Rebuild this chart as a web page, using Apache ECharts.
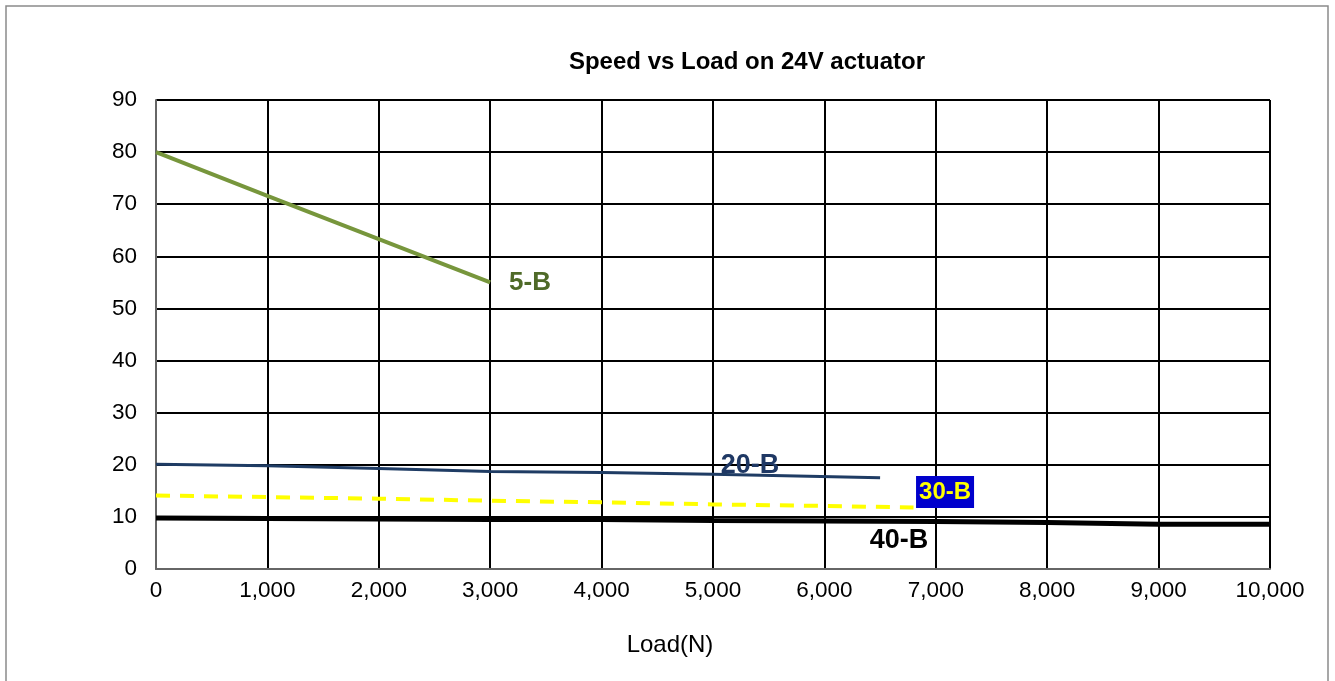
<!DOCTYPE html>
<html><head><meta charset="utf-8">
<script src="https://cdn.jsdelivr.net/npm/echarts@6/dist/echarts.min.js"></script>
<style>html,body{margin:0;padding:0;background:#fff}#c{width:1335px;height:681px}</style>
</head><body><div id="c"></div>
<script>
var titleText = 'Speed vs Load on 24V actuator';
var xName = 'Load(N)';
var s5B = [[0,80],[1000,71.6],[2000,63.3],[3000,55]];
var s20B = [[0,20.1],[1000,19.8],[2000,19.3],[3000,18.7],[4000,18.5],[5000,18.2],[6500,17.5]];
var s30B = [[0,14.1],[1000,13.8],[2000,13.5],[3000,13.1],[4000,12.8],[5000,12.4],[6000,12.1],[6800,11.8]];
var s40B = [[0,9.8],[1000,9.7],[2000,9.6],[3000,9.5],[4000,9.5],[5000,9.3],[6000,9.2],[7000,9.1],[8000,8.9],[9000,8.6],[10000,8.6]];
var labelNames = ['5-B','20-B','30-B','40-B'];
var labelAt = [[3357,54.9],[5332,19.8],[7083,14.8],[6670,5.4]];

var font = 'Liberation Sans, Arial, sans-serif';
var chart = echarts.init(document.getElementById('c'));
function lbl(i, color, size, bg){
  return {
    symbol: 'circle', symbolSize: 0,
    data: [{coord: labelAt[i]}],
    label: {show: true, position: 'inside', formatter: labelNames[i], color: color,
      fontSize: size, fontWeight: 'bold', fontFamily: font,
      backgroundColor: bg || 'transparent', padding: bg ? [4,3,4,3] : 0},
    itemStyle: {color: 'transparent'}
  };
}
chart.setOption({
  animation: false,
  backgroundColor: '#fff',
  title: [
    {text: titleText, left: 742, top: 45, textAlign: 'center',
     textStyle: {fontFamily: font, fontSize: 24, fontWeight: 'bold', color: '#000'}},
    {text: xName, left: 665, top: 628, textAlign: 'center',
     textStyle: {fontFamily: font, fontSize: 24, fontWeight: 'normal', color: '#000'}}
  ],
  graphic: [{type: 'rect', shape: {x: 6, y: 6, width: 1322, height: 690},
    style: {fill: 'none', stroke: '#8a8a8a', lineWidth: 1.5}, silent: true}],
  grid: {left: 156, right: 65, top: 100, bottom: 112},
  xAxis: {type: 'value', min: 0, max: 10000, interval: 1000,
    axisLine: {show: true, lineStyle: {color: '#666', width: 2}},
    axisTick: {show: false},
    splitLine: {show: true, lineStyle: {color: '#000', width: 2}},
    axisLabel: {fontFamily: font, fontSize: 22.5, color: '#000', margin: 10,
      formatter: function(v){ return v.toLocaleString('en-US'); }}},
  yAxis: {type: 'value', min: 0, max: 90, interval: 10,
    axisLine: {show: true, lineStyle: {color: '#666', width: 2}},
    axisTick: {show: false},
    splitLine: {show: true, lineStyle: {color: '#000', width: 2}},
    axisLabel: {fontFamily: font, fontSize: 22.5, color: '#000', margin: 19}},
  series: [
    {name: '40-B', type: 'line', data: s40B, showSymbol: false, z: 3,
     lineStyle: {color: '#000', width: 5}, markPoint: lbl(3, '#000', 27)},
    {name: '30-B', type: 'line', data: s30B, showSymbol: false, z: 4,
     lineStyle: {color: '#ffff00', width: 4, type: [14, 10]}, markPoint: lbl(2, '#ffff00', 24, '#0000cc')},
    {name: '20-B', type: 'line', data: s20B, showSymbol: false, z: 5,
     lineStyle: {color: '#1f3c64', width: 3}, markPoint: lbl(1, '#1f3864', 27)},
    {name: '5-B', type: 'line', data: s5B, showSymbol: false, z: 6,
     lineStyle: {color: '#77963c', width: 4}, markPoint: lbl(0, '#4f6a28', 26)}
  ]
});
</script></body></html>
